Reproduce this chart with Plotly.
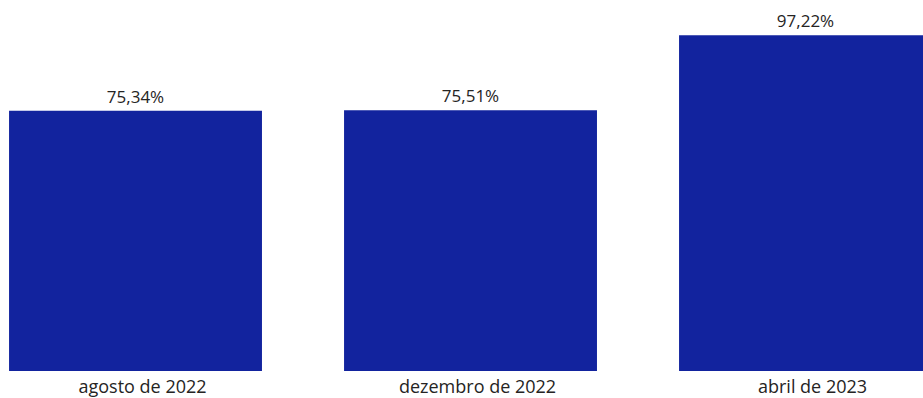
import plotly.graph_objects as go

categories = ["agosto de 2022", "dezembro de 2022", "abril de 2023"]
values = [75.34, 75.51, 97.22]
labels = ["75,34%", "75,51%", "97,22%"]

fig = go.Figure(go.Bar(
    x=categories, y=values,
    marker=dict(color="#12239E", line=dict(width=0)),
    text=labels, textposition="outside",
    textfont=dict(family="Open Sans", size=17, color="#252423"),
    cliponaxis=False,
))

fig.update_layout(
    width=923, height=398,
    margin=dict(l=0, r=0, t=0, b=27, autoexpand=False),
    paper_bgcolor="white", plot_bgcolor="white",
    bargap=0.245,
    showlegend=False,
    font=dict(family="Open Sans", size=17, color="#252423"),
    uniformtext=dict(minsize=17, mode="show"),
)
fig.update_xaxes(range=[-0.4045, 2.3507], showgrid=False, showline=False, zeroline=False,
                 automargin=False,
                 ticks="", tickfont=dict(family="Open Sans", size=18, color="#252423"),
                 ticklabelshift=7, ticklabelstandoff=3)
fig.update_yaxes(range=[0, 107.4], visible=False, showgrid=False, zeroline=False, automargin=False)

fig.write_html("out.html", config={"displayModeBar": False},
               post_script="document.body.style.margin='0';document.body.style.overflow='hidden';")
